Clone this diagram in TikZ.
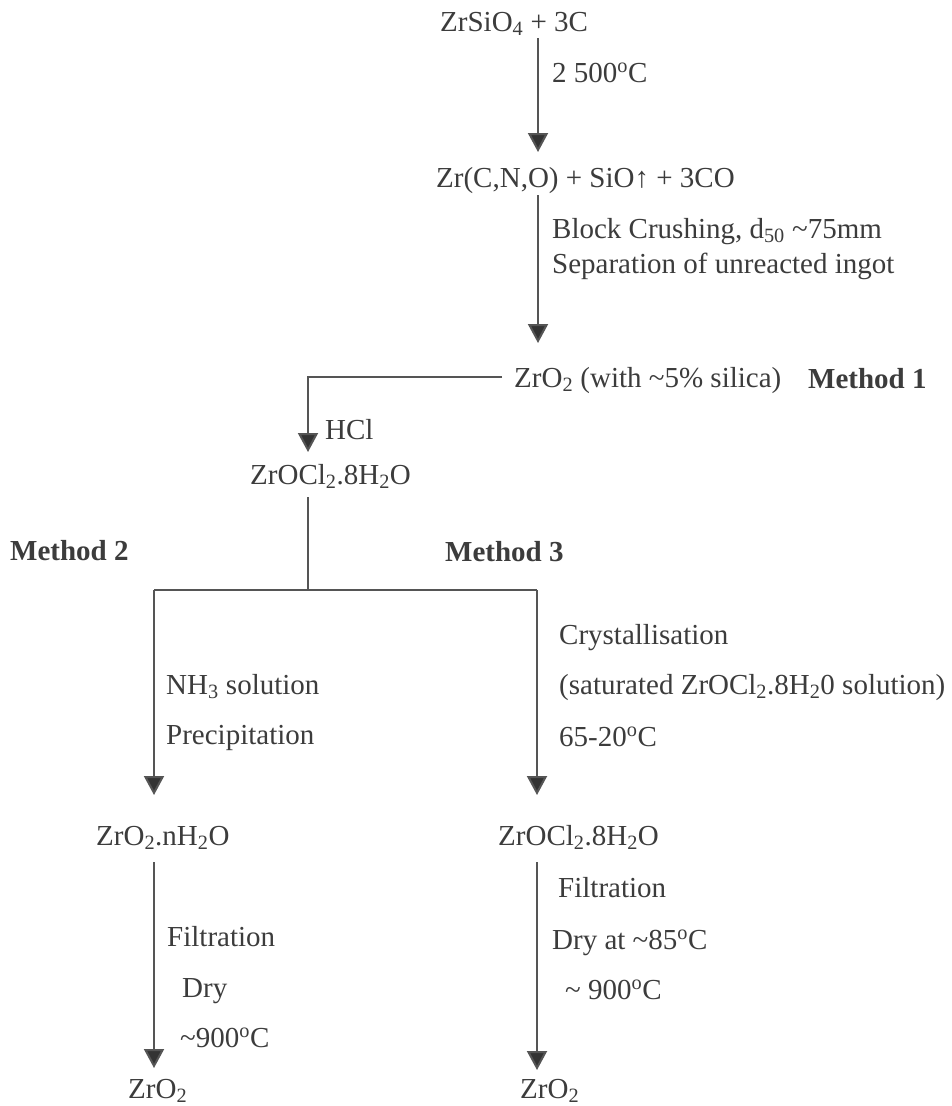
\documentclass[tikz,border=0pt]{standalone}
\usepackage{fontspec}
\setmainfont{Liberation Serif}
\usetikzlibrary{arrows.meta}
\definecolor{txt}{HTML}{3C3C3C}
\definecolor{lncol}{HTML}{555555}
\definecolor{tipcol}{HTML}{333333}
\tikzset{
  lbl/.style={anchor=base west, inner sep=0pt, text=txt, font=\fontsize{29}{34}\selectfont},
  meth/.style={lbl, font=\fontsize{29}{34}\selectfont\bfseries},
  ln/.style={draw=lncol, line width=2pt},
  arr/.style={ln, -{Triangle[width=20pt,length=19pt,fill=tipcol]}},
}
\newcommand{\dg}{\textsuperscript{o}}
\newcommand{\sbs}[1]{\textsubscript{#1}}
\begin{document}
\begin{tikzpicture}[x=1pt,y=-1pt]
\useasboundingbox[fill=white] (0,0) rectangle (952,1106);
% main column
\node[lbl] (n1) at (440,31) {ZrSiO\sbs{4} + 3C};
\node[lbl] (t1) at (552,82) {2 500\dg C};
\node[lbl] (n2) at (436,187) {Zr(C,N,O) + SiO↑ + 3CO};
\node[lbl] (t2) at (552,238) {Block Crushing, d\sbs{50} \textasciitilde75mm};
\node[lbl] (t3) at (552,273) {Separation of unreacted ingot};
\node[lbl] (n3) at (514,387) {ZrO\sbs{2} (with \textasciitilde5\% silica)};
\node[meth] (m1) at (808,388) {Method 1};
\node[lbl] (t4) at (325,439) {HCl};
\node[lbl] (n4) at (250,484) {ZrOCl\sbs{2}.8H\sbs{2}O};
\node[meth] (m2) at (10,560) {Method 2};
\node[meth] (m3) at (445,561) {Method 3};
% branch labels
\node[lbl] (t5) at (166,694) {NH\sbs{3} solution};
\node[lbl] (t6) at (166,744) {Precipitation};
\node[lbl] (t7) at (559,644) {Crystallisation};
\node[lbl] (t8) at (559,694) {(saturated ZrOCl\sbs{2}.8H\sbs{2}0 solution)};
\node[lbl] (t9) at (559,746) {65-20\dg C};
\node[lbl] (n5) at (96,845) {ZrO\sbs{2}.nH\sbs{2}O};
\node[lbl] (n6) at (498,845) {ZrOCl\sbs{2}.8H\sbs{2}O};
\node[lbl] (t10) at (167,946) {Filtration};
\node[lbl] (t11) at (182,997) {Dry};
\node[lbl] (t12) at (180,1047) {\textasciitilde900\dg C};
\node[lbl] (t13) at (558,897) {Filtration};
\node[lbl] (t14) at (552,949) {Dry at \textasciitilde85\dg C};
\node[lbl] (t15) at (565,999) {\textasciitilde\ 900\dg C};
\node[lbl] (n7) at (128,1098) {ZrO\sbs{2}};
\node[lbl] (n8) at (520,1098) {ZrO\sbs{2}};
% connector end points
\coordinate (a1) at (538,38);  \coordinate (b1) at (538,152);
\coordinate (a2) at (538,195); \coordinate (b2) at (538,343);
\coordinate (a3) at (502,377); \coordinate (k3) at (308,377); \coordinate (b3) at (308,452);
\coordinate (a4) at (308,497); \coordinate (j4) at (308,590);
\coordinate (jl) at (154,590); \coordinate (jr) at (537,590);
\coordinate (bl) at (154,795); \coordinate (br) at (537,795);
\coordinate (a5) at (154,862); \coordinate (b5) at (154,1068);
\coordinate (a6) at (537,862); \coordinate (b6) at (537,1070);
% connectors
\draw[arr] (a1) -- (b1);
\draw[arr] (a2) -- (b2);
\draw[arr] (a3) -- (k3) -- (b3);
\draw[ln] (a4) -- (j4);
\draw[ln] (jl) -- (jr);
\draw[arr] (jl) -- (bl);
\draw[arr] (jr) -- (br);
\draw[arr] (a5) -- (b5);
\draw[arr] (a6) -- (b6);
\end{tikzpicture}
\end{document}
